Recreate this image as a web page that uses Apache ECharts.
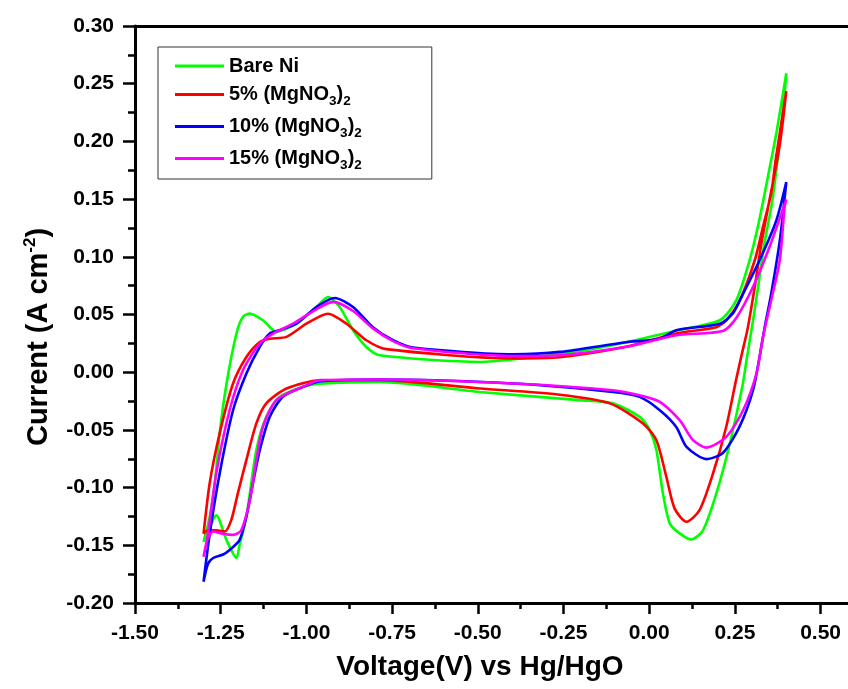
<!DOCTYPE html>
<html><head><meta charset="utf-8">
<script src="https://cdn.jsdelivr.net/npm/echarts@6/dist/echarts.min.js"></script>
<style>html,body{margin:0;padding:0;background:#fff}#c{width:848px;height:689px}</style>
</head><body><div id="c"></div>
<script>
// ---- data (voltage V vs Hg/HgO, current A cm^-2), each loop: anodic branch then cathodic branch
const seriesNames = ['Bare Ni', '5% (MgNO3)2', '10% (MgNO3)2', '15% (MgNO3)2'];
const xTicks = [-1.50, -1.25, -1.00, -0.75, -0.50, -0.25, 0.00, 0.25, 0.50];
const xMinorTicks = [-1.375, -1.125, -0.875, -0.625, -0.375, -0.125, 0.125, 0.375];
const yTicks = [-0.20, -0.15, -0.10, -0.05, 0.00, 0.05, 0.10, 0.15, 0.20, 0.25, 0.30];

const bareNiV = [-1.300,-1.282,-1.267,-1.253,-1.233,-1.204,-1.185,-1.165,-1.127,-1.088,-1.029,-0.971,-0.937,-0.903,-0.864,-0.825,-0.786,-0.494,-0.203,-0.067,0.079,0.206,0.254,0.293,0.317,0.337,0.356,0.371,0.400,
  0.390,0.360,0.335,0.322,0.303,0.284,0.272,0.235,0.196,0.157,0.123,0.089,0.060,0.040,0.021,0.001,-0.028,-0.106,-0.203,-0.494,-0.786,-0.961,-1.010,-1.078,-1.117,-1.146,-1.175,-1.195,-1.204,-1.233,-1.263,-1.272,-1.300];
const bareNiI = [-0.147,-0.125,-0.096,-0.053,-0.010,0.0335,0.048,0.0508,0.045,0.035,0.042,0.0565,0.0652,0.0565,0.0364,0.0219,0.0147,0.0089,0.0184,0.026,0.036,0.045,0.0623,0.097,0.126,0.155,0.184,0.207,0.259,
  0.225,0.150,0.110,0.0825,0.045,0.0104,-0.012,-0.062,-0.105,-0.137,-0.145,-0.1397,-0.131,-0.105,-0.0675,-0.050,-0.0387,-0.027,-0.0242,-0.0171,-0.0084,-0.010,-0.0128,-0.0214,-0.0387,-0.0675,-0.125,-0.150,-0.161,-0.1455,-0.124,-0.128,-0.147];

const mg5V = [-1.300,-1.282,-1.253,-1.214,-1.175,-1.136,-1.107,-1.058,-1.000,-0.937,-0.883,-0.825,-0.767,-0.397,-0.261,-0.067,0.079,0.196,0.225,0.264,0.308,0.332,0.356,0.369,0.400,
  0.380,0.345,0.327,0.308,0.288,0.269,0.254,0.225,0.186,0.147,0.109,0.074,0.050,0.021,-0.018,-0.115,-0.261,-0.494,-0.786,-0.961,-1.058,-1.117,-1.146,-1.175,-1.200,-1.219,-1.238,-1.263,-1.287,-1.300];
const mg5I = [-0.140,-0.096,-0.053,-0.0098,0.0132,0.0262,0.029,0.0306,0.042,0.0507,0.042,0.0277,0.020,0.012,0.013,0.022,0.0335,0.039,0.045,0.062,0.097,0.126,0.155,0.184,0.2436,
  0.195,0.140,0.111,0.074,0.039,0.014,-0.006,-0.047,-0.088,-0.1195,-0.1296,-0.118,-0.0906,-0.059,-0.0444,-0.027,-0.0195,-0.0141,-0.0069,-0.007,-0.0141,-0.027,-0.0444,-0.076,-0.105,-0.128,-0.138,-0.137,-0.137,-0.140];

const mg10V = [-1.300,-1.282,-1.253,-1.214,-1.175,-1.136,-1.107,-1.078,-1.029,-0.971,-0.917,-0.864,-0.806,-0.747,-0.689,-0.397,-0.261,-0.067,0.031,0.079,0.206,0.244,0.264,0.322,0.371,0.400,
  0.381,0.356,0.337,0.322,0.303,0.264,0.215,0.167,0.109,0.079,0.031,-0.028,-0.106,-0.397,-0.786,-0.961,-1.010,-1.068,-1.107,-1.136,-1.156,-1.175,-1.195,-1.224,-1.243,-1.272,-1.287,-1.300];
const mg10I = [-0.1816,-0.140,-0.0877,-0.033,-0.0011,0.022,0.0335,0.0364,0.042,0.0565,0.0643,0.0565,0.039,0.0277,0.0214,0.0156,0.0176,0.026,0.029,0.0364,0.042,0.051,0.062,0.097,0.1316,0.1648,
  0.114,0.068,0.039,0.0132,-0.0156,-0.047,-0.070,-0.0753,-0.0647,-0.0474,-0.0329,-0.0214,-0.0171,-0.0098,-0.0063,-0.008,-0.0127,-0.021,-0.0387,-0.0675,-0.0964,-0.125,-0.1455,-0.154,-0.158,-0.161,-0.166,-0.1816];

const mg15V = [-1.300,-1.287,-1.263,-1.224,-1.185,-1.136,-1.097,-1.039,-0.971,-0.922,-0.864,-0.806,-0.747,-0.689,-0.397,-0.261,-0.067,0.079,0.215,0.254,0.303,0.351,0.400,
  0.395,0.381,0.356,0.332,0.313,0.274,0.225,0.167,0.128,0.089,0.031,-0.028,-0.106,-0.397,-0.786,-0.961,-1.010,-1.088,-1.127,-1.146,-1.165,-1.190,-1.214,-1.244,-1.272,-1.288,-1.300];
const mg15I = [-0.160,-0.140,-0.0877,-0.033,0.0017,0.0249,0.0335,0.042,0.0545,0.0609,0.053,0.038,0.027,0.0208,0.014,0.0147,0.022,0.032,0.0358,0.047,0.074,0.1085,0.1498,
  0.143,0.097,0.0623,0.0306,-0.0011,-0.033,-0.056,-0.0654,-0.0589,-0.0416,-0.0257,-0.020,-0.0156,-0.0098,-0.0063,-0.0069,-0.0127,-0.0242,-0.0474,-0.0762,-0.111,-0.137,-0.141,-0.140,-0.138,-0.144,-0.160];

const colors = ['#00FF00', '#FF0000', '#0000FF', '#FF00FF'];
const seriesV = [bareNiV, mg5V, mg10V, mg15V];
const seriesI = [bareNiI, mg5I, mg10I, mg15I];

const FONT = '"Liberation Sans", Arial, sans-serif';
const chart = echarts.init(document.getElementById('c'), null, {renderer: 'canvas'});

const legendRich = {
  a: {fontSize: 20, fontWeight: 'bold', fontFamily: FONT, color: '#000', lineHeight: 22},
  s: {fontSize: 13.5, fontWeight: 'bold', fontFamily: FONT, color: '#000', lineHeight: 13, padding: [13, 0, 0, 0]}
};
function legendFmt(name) {
  const m = name.match(/^(.*\(MgNO)3\)2$/);
  if (m) return '{a|' + m[1] + '}{s|3}{a|)}{s|2}';
  return '{a|' + name + '}';
}

const X_MIN = -1.5, X_MAX = 0.58;
const axisBase = {
  type: 'value',
  axisLine: {show: true, onZero: false, lineStyle: {color: '#000', width: 3}},
  splitLine: {show: false},
};

const option = {
  animation: false,
  backgroundColor: '#fff',
  grid: {left: 135, top: 26, bottom: 86, right: 0, containLabel: false},
  legend: {
    orient: 'vertical', left: 158, top: 47,
    data: seriesNames,
    borderColor: '#333', borderWidth: 1,
    padding: [9, 70, 7, 17],
    itemWidth: 49, itemHeight: 14, itemGap: 5,
    formatter: legendFmt,
    textStyle: {rich: legendRich, fontFamily: FONT},
    icon: 'path://M0,6 L49,6 L49,9 L0,9 Z'
  },
  xAxis: [
    Object.assign({}, axisBase, {
      min: X_MIN, max: X_MAX, position: 'bottom',
      name: 'Voltage(V) vs Hg/HgO', nameLocation: 'middle', nameGap: 50,
      nameTextStyle: {fontSize: 28, fontWeight: 'bold', fontFamily: FONT, color: '#000', padding: [0, 23, 0, 0]},
      axisTick: {show: true, inside: false, length: 11, customValues: xTicks, lineStyle: {color: '#000', width: 2.5}},
      axisLabel: {margin: 20, fontSize: 21, fontWeight: 'bold', fontFamily: FONT, color: '#000',
        customValues: xTicks, formatter: v => v.toFixed(2)}
    }),
    Object.assign({}, axisBase, {
      min: X_MIN, max: X_MAX, position: 'top',
      axisTick: {show: false}, axisLabel: {show: false}
    }),
    {
      type: 'value', min: X_MIN, max: X_MAX, position: 'bottom', offset: 0,
      axisLine: {show: false, onZero: false}, splitLine: {show: false},
      axisTick: {show: true, inside: false, length: 6, customValues: xMinorTicks, lineStyle: {color: '#000', width: 2.5}},
      axisLabel: {show: false}
    }
  ],
  yAxis: [
    Object.assign({}, axisBase, {
      min: -0.2, max: 0.3, interval: 0.05, position: 'left',
      name: 'Current (A cm{sup|-2})', nameLocation: 'middle', nameGap: 80,
      nameTextStyle: {fontSize: 29, fontWeight: 'bold', fontFamily: FONT, color: '#000', padding: [0, 45, 0, 0],
        rich: {sup: {fontSize: 17, fontWeight: 'bold', fontFamily: FONT, color: '#000', padding: [0, 0, 16, 0]}}},
      axisTick: {show: true, inside: false, length: 12, lineStyle: {color: '#000', width: 2.5}},
      minorTick: {show: true, splitNumber: 2, length: 7, lineStyle: {color: '#000', width: 2.5}},
      axisLabel: {margin: 21, fontSize: 21, fontWeight: 'bold', fontFamily: FONT, color: '#000',
        formatter: v => (yTicks.some(t => Math.abs(t - v) < 1e-6) ? v.toFixed(2) : '')}
    })
  ],
  series: seriesNames.map((n, k) => ({
    name: n, type: 'line', xAxisIndex: 0, yAxisIndex: 0,
    data: seriesV[k].map((v, j) => [v, seriesI[k][j]]),
    showSymbol: false, symbol: 'none', smooth: 0.25,
    lineStyle: {color: colors[k], width: 2.6},
    itemStyle: {color: colors[k]},
    clip: false
  }))
};
chart.setOption(option);
</script></body></html>
